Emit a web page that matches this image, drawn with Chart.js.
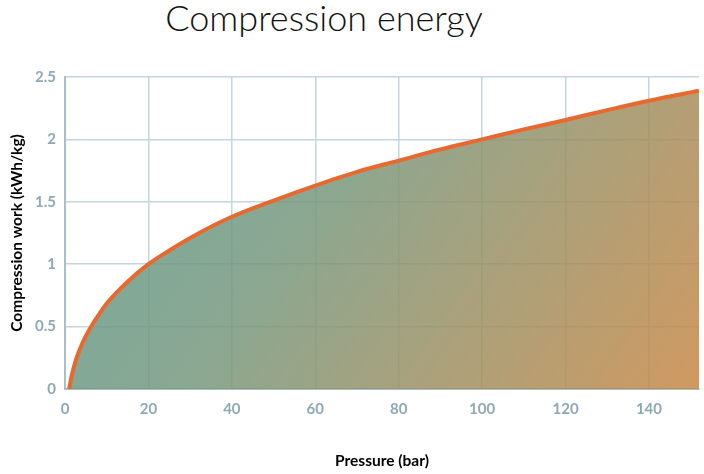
<!DOCTYPE html>
<html>
<head>
<meta charset="utf-8">
<script src="https://cdn.jsdelivr.net/npm/chart.js@4"></script>
<style>
  html, body { margin: 0; padding: 0; background: #fff; }
  #wrap { position: relative; width: 704px; height: 474px; }
  #title { position: absolute; left: 0; top: -3px; width: 648px; text-align: center;
           font-family: Lato, sans-serif; font-weight: 300; font-size: 36px; line-height: 40px;
           color: #111; margin: 0; }
  canvas { position: absolute; left: 0; top: 0; }
</style>
</head>
<body>
<div id="wrap">
  <div id="title">Compression energy</div>
  <canvas id="c" width="704" height="474"></canvas>
</div>
<script>
const pressure = [1, 1.5, 2, 2.5, 3, 4, 5, 6, 7, 8, 9, 10, 12, 15, 20, 25, 30, 35, 40, 50, 60, 70, 80, 90, 100, 110, 120, 130, 140, 152];
const work     = [0, 0.09, 0.16, 0.22, 0.27, 0.355, 0.425, 0.485, 0.54, 0.59, 0.64, 0.685, 0.76, 0.86, 1.00, 1.11, 1.21, 1.30, 1.38, 1.51, 1.63, 1.74, 1.83, 1.92, 2.00, 2.08, 2.155, 2.235, 2.31, 2.39];
const xTicks = [0, 20, 40, 60, 80, 100, 120, 140];
const yTicks = [0, 0.5, 1, 1.5, 2, 2.5];

const points = pressure.map((p, i) => ({ x: p, y: work[i] }));

function grad(ctx) {
  const ch = ctx.chart;
  const a = ch.chartArea;
  if (!a) return 'rgba(99,155,141,0.85)';
  const g = ch.ctx.createLinearGradient(a.left, a.top - 60, a.right, a.bottom + 60);
  g.addColorStop(0, 'rgba(88,156,146,0.85)');
  g.addColorStop(0.4, 'rgba(118,152,126,0.85)');
  g.addColorStop(1, 'rgba(206,134,64,0.85)');
  return g;
}

new Chart(document.getElementById('c'), {
  type: 'line',
  data: {
    datasets: [{
      data: points,
      borderColor: '#e8692e',
      borderWidth: 4,
      pointRadius: 0,
      cubicInterpolationMode: 'monotone',
      fill: 'origin',
      backgroundColor: grad
    }]
  },
  options: {
    responsive: false,
    animation: false,
    layout: { padding: { top: 77, right: 5, left: 0, bottom: 0 } },
    plugins: { legend: { display: false }, tooltip: { enabled: false }, title: { display: false } },
    scales: {
      x: {
        type: 'linear',
        min: 0, max: 152,
        afterBuildTicks: s => { s.ticks = xTicks.map(v => ({ value: v })); },
        afterFit: s => { s.height = 85; },
        grid: { color: '#c6d5db', lineWidth: 1.5, drawTicks: false },
        border: { color: '#a9bec6', width: 2 },
        ticks: { color: '#8fa9b4', padding: 11, callback: v => String(v),
                 font: { family: 'Lato', size: 15, weight: 'bold' } },
        title: { display: true, text: 'Pressure (bar)', color: '#000', padding: { top: 24 },
                 font: { family: 'Lato', size: 15.5, weight: 'bold' } }
      },
      y: {
        min: 0, max: 2.5,
        afterBuildTicks: s => { s.ticks = yTicks.map(v => ({ value: v })); },
        afterFit: s => { s.width = 65; },
        grid: { color: '#c6d5db', lineWidth: 1.5, drawTicks: false },
        border: { color: '#a9bec6', width: 2 },
        ticks: { color: '#8fa9b4', padding: 9, callback: v => String(v),
                 font: { family: 'Lato', size: 15, weight: 'bold' } },
        title: { display: true, text: 'Compression work (kWh/kg)', color: '#000', padding: { top: 8, bottom: 4 },
                 font: { family: 'Lato', size: 15.5, weight: 'bold' } }
      }
    }
  }
});
</script>
</body>
</html>
